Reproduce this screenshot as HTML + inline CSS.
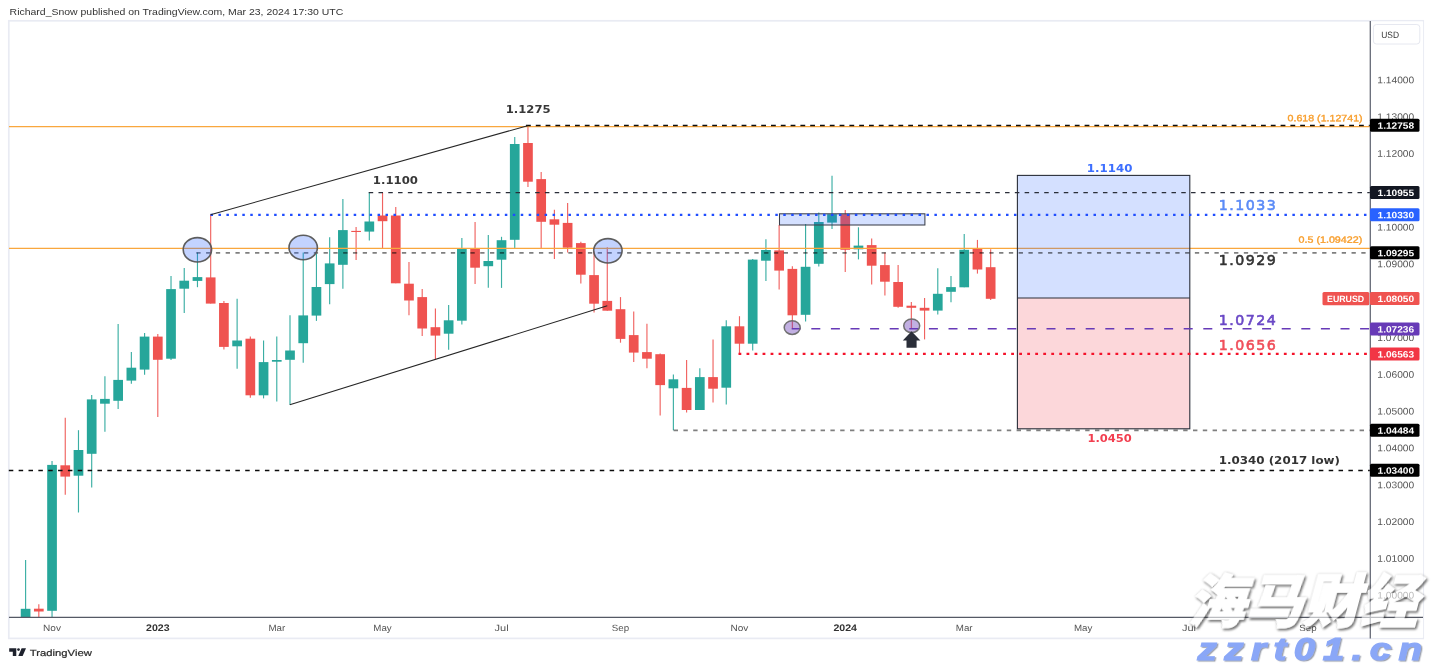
<!DOCTYPE html>
<html lang="en">
<head>
<meta charset="utf-8">
<title>EURUSD weekly chart</title>
<style>
html,body{margin:0;padding:0;background:#fff;}
body{width:1432px;height:666px;overflow:hidden;position:relative;font-family:"Liberation Sans",sans-serif;}
svg{position:absolute;left:0;top:0;display:block;}
.ui{font-family:"Liberation Sans",sans-serif;}
.lb{font-family:"DejaVu Sans","Liberation Sans",sans-serif;}
.cjk{font-family:"Liberation Sans","Noto Sans CJK SC",sans-serif;}
</style>
</head>
<body>
<svg width="1432" height="666" viewBox="0 0 1432 666">
<rect x="0" y="0" width="1432" height="666" fill="#ffffff"/>

<rect x="8.8" y="20.8" width="1414.4" height="617.6" fill="none" stroke="#e9ebf3" stroke-width="1.7"/>
<g id="candles">
<line x1="25.60" y1="560.1" x2="25.60" y2="617.1" stroke="#26a69a" stroke-width="1.15" opacity="0.9"/>
<rect x="20.75" y="608.8" width="9.7" height="8.3" fill="#26a69a"/>
<line x1="38.82" y1="604.2" x2="38.82" y2="617.1" stroke="#ef5350" stroke-width="1.15" opacity="0.9"/>
<rect x="33.97" y="608.7" width="9.7" height="2.8" fill="#ef5350"/>
<line x1="52.04" y1="461.0" x2="52.04" y2="617.1" stroke="#26a69a" stroke-width="1.15" opacity="0.9"/>
<rect x="47.19" y="464.9" width="9.7" height="145.9" fill="#26a69a"/>
<line x1="65.26" y1="417.8" x2="65.26" y2="494.8" stroke="#ef5350" stroke-width="1.15" opacity="0.9"/>
<rect x="60.41" y="465.3" width="9.7" height="11.3" fill="#ef5350"/>
<line x1="78.48" y1="430.2" x2="78.48" y2="512.5" stroke="#26a69a" stroke-width="1.15" opacity="0.9"/>
<rect x="73.63" y="450.0" width="9.7" height="25.7" fill="#26a69a"/>
<line x1="91.70" y1="395.0" x2="91.70" y2="487.4" stroke="#26a69a" stroke-width="1.15" opacity="0.9"/>
<rect x="86.85" y="399.4" width="9.7" height="54.4" fill="#26a69a"/>
<line x1="104.92" y1="376.2" x2="104.92" y2="431.8" stroke="#26a69a" stroke-width="1.15" opacity="0.9"/>
<rect x="100.07" y="398.9" width="9.7" height="4.8" fill="#26a69a"/>
<line x1="118.14" y1="324.0" x2="118.14" y2="408.9" stroke="#26a69a" stroke-width="1.15" opacity="0.9"/>
<rect x="113.29" y="379.9" width="9.7" height="20.9" fill="#26a69a"/>
<line x1="131.36" y1="352.0" x2="131.36" y2="383.7" stroke="#26a69a" stroke-width="1.15" opacity="0.9"/>
<rect x="126.51" y="367.7" width="9.7" height="12.9" fill="#26a69a"/>
<line x1="144.58" y1="332.9" x2="144.58" y2="374.7" stroke="#26a69a" stroke-width="1.15" opacity="0.9"/>
<rect x="139.73" y="336.6" width="9.7" height="33.0" fill="#26a69a"/>
<line x1="157.80" y1="334.1" x2="157.80" y2="416.9" stroke="#ef5350" stroke-width="1.15" opacity="0.9"/>
<rect x="152.95" y="336.6" width="9.7" height="23.2" fill="#ef5350"/>
<line x1="171.02" y1="276.1" x2="171.02" y2="360.0" stroke="#26a69a" stroke-width="1.15" opacity="0.9"/>
<rect x="166.17" y="289.1" width="9.7" height="69.6" fill="#26a69a"/>
<line x1="184.24" y1="267.9" x2="184.24" y2="312.9" stroke="#26a69a" stroke-width="1.15" opacity="0.9"/>
<rect x="179.39" y="280.7" width="9.7" height="8.0" fill="#26a69a"/>
<line x1="197.46" y1="252.6" x2="197.46" y2="287.2" stroke="#26a69a" stroke-width="1.15" opacity="0.9"/>
<rect x="192.61" y="277.1" width="9.7" height="3.8" fill="#26a69a"/>
<line x1="210.68" y1="214.7" x2="210.68" y2="303.6" stroke="#ef5350" stroke-width="1.15" opacity="0.9"/>
<rect x="205.83" y="277.4" width="9.7" height="26.2" fill="#ef5350"/>
<line x1="223.90" y1="300.9" x2="223.90" y2="349.5" stroke="#ef5350" stroke-width="1.15" opacity="0.9"/>
<rect x="219.05" y="303.0" width="9.7" height="43.9" fill="#ef5350"/>
<line x1="237.12" y1="298.8" x2="237.12" y2="368.8" stroke="#26a69a" stroke-width="1.15" opacity="0.9"/>
<rect x="232.27" y="340.5" width="9.7" height="5.8" fill="#26a69a"/>
<line x1="250.34" y1="336.6" x2="250.34" y2="397.8" stroke="#ef5350" stroke-width="1.15" opacity="0.9"/>
<rect x="245.49" y="338.7" width="9.7" height="56.6" fill="#ef5350"/>
<line x1="263.56" y1="340.5" x2="263.56" y2="398.4" stroke="#26a69a" stroke-width="1.15" opacity="0.9"/>
<rect x="258.71" y="362.1" width="9.7" height="33.2" fill="#26a69a"/>
<line x1="276.78" y1="336.6" x2="276.78" y2="401.6" stroke="#26a69a" stroke-width="1.15" opacity="0.9"/>
<rect x="271.93" y="360.0" width="9.7" height="1.7" fill="#26a69a"/>
<line x1="290.00" y1="315.2" x2="290.00" y2="404.7" stroke="#26a69a" stroke-width="1.15" opacity="0.9"/>
<rect x="285.15" y="350.5" width="9.7" height="9.3" fill="#26a69a"/>
<line x1="303.22" y1="252.6" x2="303.22" y2="362.7" stroke="#26a69a" stroke-width="1.15" opacity="0.9"/>
<rect x="298.37" y="315.4" width="9.7" height="27.8" fill="#26a69a"/>
<line x1="316.44" y1="253.6" x2="316.44" y2="320.9" stroke="#26a69a" stroke-width="1.15" opacity="0.9"/>
<rect x="311.59" y="287.0" width="9.7" height="28.6" fill="#26a69a"/>
<line x1="329.66" y1="237.2" x2="329.66" y2="304.3" stroke="#26a69a" stroke-width="1.15" opacity="0.9"/>
<rect x="324.81" y="263.4" width="9.7" height="20.7" fill="#26a69a"/>
<line x1="342.88" y1="198.9" x2="342.88" y2="288.7" stroke="#26a69a" stroke-width="1.15" opacity="0.9"/>
<rect x="338.03" y="230.1" width="9.7" height="34.7" fill="#26a69a"/>
<line x1="356.10" y1="226.9" x2="356.10" y2="259.9" stroke="#ef5350" stroke-width="1.15" opacity="0.9"/>
<rect x="351.25" y="230.9" width="9.7" height="1.1" fill="#ef5350"/>
<line x1="369.32" y1="192.6" x2="369.32" y2="240.6" stroke="#26a69a" stroke-width="1.15" opacity="0.9"/>
<rect x="364.47" y="221.5" width="9.7" height="10.1" fill="#26a69a"/>
<line x1="382.54" y1="192.6" x2="382.54" y2="248.0" stroke="#ef5350" stroke-width="1.15" opacity="0.9"/>
<rect x="377.69" y="215.5" width="9.7" height="5.7" fill="#ef5350"/>
<line x1="395.76" y1="206.9" x2="395.76" y2="283.3" stroke="#ef5350" stroke-width="1.15" opacity="0.9"/>
<rect x="390.91" y="215.5" width="9.7" height="67.8" fill="#ef5350"/>
<line x1="408.98" y1="262.0" x2="408.98" y2="315.2" stroke="#ef5350" stroke-width="1.15" opacity="0.9"/>
<rect x="404.13" y="283.7" width="9.7" height="16.8" fill="#ef5350"/>
<line x1="422.20" y1="289.0" x2="422.20" y2="336.0" stroke="#ef5350" stroke-width="1.15" opacity="0.9"/>
<rect x="417.35" y="297.1" width="9.7" height="31.4" fill="#ef5350"/>
<line x1="435.42" y1="308.5" x2="435.42" y2="359.2" stroke="#ef5350" stroke-width="1.15" opacity="0.9"/>
<rect x="430.57" y="327.2" width="9.7" height="8.4" fill="#ef5350"/>
<line x1="448.64" y1="305.1" x2="448.64" y2="349.7" stroke="#26a69a" stroke-width="1.15" opacity="0.9"/>
<rect x="443.79" y="320.3" width="9.7" height="13.4" fill="#26a69a"/>
<line x1="461.86" y1="237.9" x2="461.86" y2="324.5" stroke="#26a69a" stroke-width="1.15" opacity="0.9"/>
<rect x="457.01" y="248.4" width="9.7" height="72.3" fill="#26a69a"/>
<line x1="475.08" y1="222.1" x2="475.08" y2="284.1" stroke="#ef5350" stroke-width="1.15" opacity="0.9"/>
<rect x="470.23" y="248.4" width="9.7" height="19.3" fill="#ef5350"/>
<line x1="488.30" y1="235.1" x2="488.30" y2="287.7" stroke="#26a69a" stroke-width="1.15" opacity="0.9"/>
<rect x="483.45" y="261.0" width="9.7" height="5.2" fill="#26a69a"/>
<line x1="501.52" y1="236.8" x2="501.52" y2="287.9" stroke="#26a69a" stroke-width="1.15" opacity="0.9"/>
<rect x="496.67" y="240.2" width="9.7" height="19.5" fill="#26a69a"/>
<line x1="514.74" y1="137.1" x2="514.74" y2="248.0" stroke="#26a69a" stroke-width="1.15" opacity="0.9"/>
<rect x="509.89" y="144.0" width="9.7" height="95.8" fill="#26a69a"/>
<line x1="527.96" y1="125.7" x2="527.96" y2="187.1" stroke="#ef5350" stroke-width="1.15" opacity="0.9"/>
<rect x="523.11" y="143.0" width="9.7" height="38.7" fill="#ef5350"/>
<line x1="541.18" y1="172.0" x2="541.18" y2="248.0" stroke="#ef5350" stroke-width="1.15" opacity="0.9"/>
<rect x="536.33" y="179.1" width="9.7" height="42.7" fill="#ef5350"/>
<line x1="554.40" y1="209.8" x2="554.40" y2="258.9" stroke="#ef5350" stroke-width="1.15" opacity="0.9"/>
<rect x="549.55" y="219.3" width="9.7" height="5.4" fill="#ef5350"/>
<line x1="567.62" y1="202.9" x2="567.62" y2="252.6" stroke="#ef5350" stroke-width="1.15" opacity="0.9"/>
<rect x="562.77" y="222.9" width="9.7" height="24.8" fill="#ef5350"/>
<line x1="580.84" y1="241.7" x2="580.84" y2="283.5" stroke="#ef5350" stroke-width="1.15" opacity="0.9"/>
<rect x="575.99" y="243.1" width="9.7" height="31.6" fill="#ef5350"/>
<line x1="594.06" y1="251.5" x2="594.06" y2="312.5" stroke="#ef5350" stroke-width="1.15" opacity="0.9"/>
<rect x="589.21" y="275.1" width="9.7" height="28.6" fill="#ef5350"/>
<line x1="607.28" y1="247.3" x2="607.28" y2="310.7" stroke="#ef5350" stroke-width="1.15" opacity="0.9"/>
<rect x="602.43" y="300.9" width="9.7" height="9.8" fill="#ef5350"/>
<line x1="620.50" y1="297.1" x2="620.50" y2="342.7" stroke="#ef5350" stroke-width="1.15" opacity="0.9"/>
<rect x="615.65" y="309.2" width="9.7" height="29.7" fill="#ef5350"/>
<line x1="633.72" y1="311.6" x2="633.72" y2="362.0" stroke="#ef5350" stroke-width="1.15" opacity="0.9"/>
<rect x="628.87" y="335.1" width="9.7" height="17.5" fill="#ef5350"/>
<line x1="646.94" y1="323.8" x2="646.94" y2="368.3" stroke="#ef5350" stroke-width="1.15" opacity="0.9"/>
<rect x="642.09" y="352.1" width="9.7" height="6.6" fill="#ef5350"/>
<line x1="660.16" y1="353.4" x2="660.16" y2="415.6" stroke="#ef5350" stroke-width="1.15" opacity="0.9"/>
<rect x="655.31" y="354.2" width="9.7" height="30.9" fill="#ef5350"/>
<line x1="673.38" y1="374.6" x2="673.38" y2="430.3" stroke="#26a69a" stroke-width="1.15" opacity="0.9"/>
<rect x="668.53" y="379.3" width="9.7" height="9.0" fill="#26a69a"/>
<line x1="686.60" y1="359.9" x2="686.60" y2="412.5" stroke="#ef5350" stroke-width="1.15" opacity="0.9"/>
<rect x="681.75" y="387.9" width="9.7" height="22.1" fill="#ef5350"/>
<line x1="699.82" y1="368.3" x2="699.82" y2="410.0" stroke="#26a69a" stroke-width="1.15" opacity="0.9"/>
<rect x="694.97" y="377.1" width="9.7" height="32.9" fill="#26a69a"/>
<line x1="713.04" y1="339.5" x2="713.04" y2="402.4" stroke="#ef5350" stroke-width="1.15" opacity="0.9"/>
<rect x="708.19" y="377.1" width="9.7" height="11.6" fill="#ef5350"/>
<line x1="726.26" y1="320.2" x2="726.26" y2="404.5" stroke="#26a69a" stroke-width="1.15" opacity="0.9"/>
<rect x="721.41" y="326.3" width="9.7" height="61.4" fill="#26a69a"/>
<line x1="739.48" y1="316.2" x2="739.48" y2="354.0" stroke="#ef5350" stroke-width="1.15" opacity="0.9"/>
<rect x="734.63" y="326.3" width="9.7" height="17.4" fill="#ef5350"/>
<line x1="752.70" y1="259.0" x2="752.70" y2="350.5" stroke="#26a69a" stroke-width="1.15" opacity="0.9"/>
<rect x="747.85" y="259.6" width="9.7" height="84.1" fill="#26a69a"/>
<line x1="765.92" y1="239.3" x2="765.92" y2="281.1" stroke="#26a69a" stroke-width="1.15" opacity="0.9"/>
<rect x="761.07" y="250.0" width="9.7" height="10.7" fill="#26a69a"/>
<line x1="779.14" y1="225.0" x2="779.14" y2="289.6" stroke="#ef5350" stroke-width="1.15" opacity="0.9"/>
<rect x="774.29" y="250.4" width="9.7" height="20.2" fill="#ef5350"/>
<line x1="792.36" y1="266.2" x2="792.36" y2="328.4" stroke="#ef5350" stroke-width="1.15" opacity="0.9"/>
<rect x="787.51" y="268.9" width="9.7" height="46.4" fill="#ef5350"/>
<line x1="805.58" y1="224.1" x2="805.58" y2="321.5" stroke="#26a69a" stroke-width="1.15" opacity="0.9"/>
<rect x="800.73" y="266.8" width="9.7" height="48.0" fill="#26a69a"/>
<line x1="818.80" y1="212.6" x2="818.80" y2="266.6" stroke="#26a69a" stroke-width="1.15" opacity="0.9"/>
<rect x="813.95" y="222.0" width="9.7" height="41.8" fill="#26a69a"/>
<line x1="832.02" y1="175.8" x2="832.02" y2="229.0" stroke="#26a69a" stroke-width="1.15" opacity="0.9"/>
<rect x="827.17" y="214.2" width="9.7" height="8.4" fill="#26a69a"/>
<line x1="845.24" y1="210.0" x2="845.24" y2="272.0" stroke="#ef5350" stroke-width="1.15" opacity="0.9"/>
<rect x="840.39" y="214.2" width="9.7" height="35.6" fill="#ef5350"/>
<line x1="858.46" y1="227.3" x2="858.46" y2="259.4" stroke="#26a69a" stroke-width="1.15" opacity="0.9"/>
<rect x="853.61" y="245.6" width="9.7" height="3.7" fill="#26a69a"/>
<line x1="871.68" y1="238.4" x2="871.68" y2="284.4" stroke="#ef5350" stroke-width="1.15" opacity="0.9"/>
<rect x="866.83" y="245.1" width="9.7" height="20.6" fill="#ef5350"/>
<line x1="884.90" y1="252.5" x2="884.90" y2="295.6" stroke="#ef5350" stroke-width="1.15" opacity="0.9"/>
<rect x="880.05" y="265.1" width="9.7" height="16.6" fill="#ef5350"/>
<line x1="898.12" y1="265.1" x2="898.12" y2="307.8" stroke="#ef5350" stroke-width="1.15" opacity="0.9"/>
<rect x="893.27" y="282.0" width="9.7" height="24.8" fill="#ef5350"/>
<line x1="911.34" y1="302.0" x2="911.34" y2="328.9" stroke="#ef5350" stroke-width="1.15" opacity="0.9"/>
<rect x="906.49" y="305.7" width="9.7" height="2.1" fill="#ef5350"/>
<line x1="924.56" y1="298.0" x2="924.56" y2="339.4" stroke="#ef5350" stroke-width="1.15" opacity="0.9"/>
<rect x="919.71" y="307.8" width="9.7" height="2.8" fill="#ef5350"/>
<line x1="937.78" y1="268.3" x2="937.78" y2="314.6" stroke="#26a69a" stroke-width="1.15" opacity="0.9"/>
<rect x="932.93" y="293.8" width="9.7" height="16.8" fill="#26a69a"/>
<line x1="951.00" y1="275.9" x2="951.00" y2="302.2" stroke="#26a69a" stroke-width="1.15" opacity="0.9"/>
<rect x="946.15" y="287.1" width="9.7" height="4.7" fill="#26a69a"/>
<line x1="964.22" y1="234.0" x2="964.22" y2="287.3" stroke="#26a69a" stroke-width="1.15" opacity="0.9"/>
<rect x="959.37" y="249.8" width="9.7" height="37.5" fill="#26a69a"/>
<line x1="977.44" y1="239.9" x2="977.44" y2="273.6" stroke="#ef5350" stroke-width="1.15" opacity="0.9"/>
<rect x="972.59" y="248.3" width="9.7" height="21.2" fill="#ef5350"/>
<line x1="990.66" y1="249.3" x2="990.66" y2="299.9" stroke="#ef5350" stroke-width="1.15" opacity="0.9"/>
<rect x="985.81" y="267.2" width="9.7" height="31.6" fill="#ef5350"/>
</g>
<g id="drawings" fill="none">
<line x1="9" y1="126.6" x2="1370.3" y2="126.6" stroke="#f9a73e" stroke-width="1.1"/>
<line x1="9" y1="248.4" x2="1370.3" y2="248.4" stroke="#f9a73e" stroke-width="1.1"/>
<rect x="1017.4" y="175.4" width="172.4" height="122.6" fill="#2962ff" fill-opacity="0.2"/>
<rect x="1017.4" y="298" width="172.4" height="130.8" fill="#f23645" fill-opacity="0.2"/>
<rect x="1017.4" y="175.4" width="172.4" height="253.4" fill="none" stroke="#2a2e39" stroke-width="1.1"/>
<line x1="1017.4" y1="298" x2="1189.8" y2="298" stroke="#2a2e39" stroke-width="1.1"/>
<rect x="779.5" y="213.8" width="145.4" height="11.2" fill="#2962ff" fill-opacity="0.2" stroke="#3b3f4a" stroke-width="1.05"/>
<line x1="526.0" y1="125.5" x2="1370.3" y2="125.5" stroke="#0c0c0c" stroke-width="1.5" stroke-dasharray="4.8 5.0"/>
<line x1="368.7" y1="192.6" x2="1370.3" y2="192.6" stroke="#2a2e39" stroke-width="1.1" stroke-dasharray="4.5 5.29"/>
<line x1="210.5" y1="214.9" x2="1370.3" y2="214.9" stroke="#1f4dff" stroke-width="2.4" stroke-dasharray="2.5 5.455"/>
<line x1="196.3" y1="252.85" x2="1370.3" y2="252.85" stroke="#000000" stroke-opacity="0.5" stroke-width="1.8" stroke-dasharray="4.3 5.49"/>
<line x1="791.7" y1="328.7" x2="1370.3" y2="328.7" stroke="#673ab7" stroke-width="1.6" stroke-dasharray="9 10.6"/>
<line x1="738.5" y1="353.8" x2="1370.3" y2="353.8" stroke="#f4122a" stroke-width="2.2" stroke-dasharray="2.8 5.22"/>
<line x1="673.6" y1="430.3" x2="1370.3" y2="430.3" stroke="#000000" stroke-opacity="0.5" stroke-width="1.7" stroke-dasharray="4.4 5.4"/>
<line x1="8.8" y1="470.5" x2="1370.3" y2="470.5" stroke="#0c0c0c" stroke-width="1.35" stroke-dasharray="4.5 5.35"/>
<line x1="210.5" y1="214.7" x2="527.6" y2="125.7" stroke="#262626" stroke-width="1.05"/>
<line x1="289.8" y1="404.7" x2="607.3" y2="305.8" stroke="#262626" stroke-width="1.05"/>
<ellipse cx="197.4" cy="249.8" rx="14.2" ry="12.2" fill="#2962ff" fill-opacity="0.28" stroke="#555555" stroke-opacity="0.95" stroke-width="1.6"/>
<ellipse cx="303.2" cy="247.5" rx="14.2" ry="12.2" fill="#2962ff" fill-opacity="0.28" stroke="#555555" stroke-opacity="0.95" stroke-width="1.6"/>
<ellipse cx="607.9" cy="250.8" rx="14.2" ry="12.2" fill="#2962ff" fill-opacity="0.28" stroke="#555555" stroke-opacity="0.95" stroke-width="1.6"/>
<ellipse cx="792.2" cy="327.6" rx="8" ry="6.8" fill="#673ab7" fill-opacity="0.4" stroke="#6a6a6a" stroke-opacity="0.95" stroke-width="1.5"/>
<ellipse cx="911.7" cy="325.8" rx="8" ry="6.8" fill="#673ab7" fill-opacity="0.4" stroke="#6a6a6a" stroke-opacity="0.95" stroke-width="1.5"/>
<path d="M911.5 331.2 L920.4 340.4 L916.6 340.4 L916.6 347.8 L906.5 347.8 L906.5 340.4 L902.8 340.4 Z" fill="#2a2e39" stroke="none"/>
</g>
<text class="lb" x="505.8" y="112.8" font-size="10.7" font-weight="bold" fill="#383838" textLength="44.8" lengthAdjust="spacingAndGlyphs">1.1275</text>
<text class="lb" x="372.8" y="183.9" font-size="10.7" font-weight="bold" fill="#383838" textLength="45.2" lengthAdjust="spacingAndGlyphs">1.1100</text>
<text class="lb" x="1086.8" y="172.3" font-size="10.7" font-weight="bold" fill="#3d6fff" textLength="45.6" lengthAdjust="spacingAndGlyphs">1.1140</text>
<text class="lb" x="1087.5" y="441.7" font-size="10.4" font-weight="bold" fill="#f23f50" textLength="44.3" lengthAdjust="spacingAndGlyphs">1.0450</text>
<text class="lb" x="1218.7" y="464.0" font-size="10.8" font-weight="bold" fill="#333" textLength="121.3" lengthAdjust="spacingAndGlyphs">1.0340 (2017 low)</text>
<text class="lb" x="1218.8" y="209.6" font-size="14.2" font-weight="normal" fill="#5b8bf7" textLength="57" stroke="#5b8bf7" stroke-width="0.6">1.1033</text>
<text class="lb" x="1218.8" y="265.2" font-size="14.2" font-weight="normal" fill="#333333" textLength="57" stroke="#333333" stroke-width="0.6">1.0929</text>
<text class="lb" x="1218.8" y="324.8" font-size="14.2" font-weight="normal" fill="#6a48c6" textLength="57" stroke="#6a48c6" stroke-width="0.6">1.0724</text>
<text class="lb" x="1218.8" y="349.6" font-size="14.2" font-weight="normal" fill="#f0505c" textLength="57" stroke="#f0505c" stroke-width="0.6">1.0656</text>
<text class="ui" x="1287.6" y="121.2" transform="rotate(0.03 1287.6 121.2)" font-size="9.2" fill="#f89e2c" stroke="#f89e2c" stroke-width="0.35" textLength="75" lengthAdjust="spacingAndGlyphs">0.618 (1.12741)</text>
<text class="ui" x="1298.6" y="242.8" transform="rotate(0.03 1298.6 242.8)" font-size="9.2" fill="#f89e2c" stroke="#f89e2c" stroke-width="0.35" textLength="63.6" lengthAdjust="spacingAndGlyphs">0.5 (1.09422)</text>
<rect x="1370.8" y="21.4" width="52.3" height="616.4" fill="#ffffff"/>
<line x1="1370.3" y1="21" x2="1370.3" y2="638.4" stroke="#666a76" stroke-width="1.3"/>
<line x1="9" y1="617.4" x2="1423" y2="617.4" stroke="#555965" stroke-width="1.2"/>
<rect x="1373.4" y="24.5" width="46.4" height="19.5" rx="3" ry="3" fill="#fff" stroke="#e6e8f0" stroke-width="1"/>
<text class="ui" x="1381.2" y="37.9" transform="rotate(0.03 1381.2 37.9)" font-size="9.2" fill="#333" textLength="17.8" lengthAdjust="spacingAndGlyphs">USD</text>
<text class="ui" x="1377.3" y="83.25" transform="rotate(0.03 1377.3 83.25)" font-size="9.6" fill="#555555" textLength="36.9" lengthAdjust="spacingAndGlyphs">1.14000</text>
<text class="ui" x="1377.3" y="120.06" transform="rotate(0.03 1377.3 120.06)" font-size="9.6" fill="#555555" textLength="36.9" lengthAdjust="spacingAndGlyphs">1.13000</text>
<text class="ui" x="1377.3" y="156.87" transform="rotate(0.03 1377.3 156.87)" font-size="9.6" fill="#555555" textLength="36.9" lengthAdjust="spacingAndGlyphs">1.12000</text>
<text class="ui" x="1377.3" y="193.68" transform="rotate(0.03 1377.3 193.68)" font-size="9.6" fill="#555555" textLength="36.9" lengthAdjust="spacingAndGlyphs">1.11000</text>
<text class="ui" x="1377.3" y="230.49" transform="rotate(0.03 1377.3 230.49)" font-size="9.6" fill="#555555" textLength="36.9" lengthAdjust="spacingAndGlyphs">1.10000</text>
<text class="ui" x="1377.3" y="267.30" transform="rotate(0.03 1377.3 267.30)" font-size="9.6" fill="#555555" textLength="36.9" lengthAdjust="spacingAndGlyphs">1.09000</text>
<text class="ui" x="1377.3" y="304.11" transform="rotate(0.03 1377.3 304.11)" font-size="9.6" fill="#555555" textLength="36.9" lengthAdjust="spacingAndGlyphs">1.08000</text>
<text class="ui" x="1377.3" y="340.92" transform="rotate(0.03 1377.3 340.92)" font-size="9.6" fill="#555555" textLength="36.9" lengthAdjust="spacingAndGlyphs">1.07000</text>
<text class="ui" x="1377.3" y="377.73" transform="rotate(0.03 1377.3 377.73)" font-size="9.6" fill="#555555" textLength="36.9" lengthAdjust="spacingAndGlyphs">1.06000</text>
<text class="ui" x="1377.3" y="414.54" transform="rotate(0.03 1377.3 414.54)" font-size="9.6" fill="#555555" textLength="36.9" lengthAdjust="spacingAndGlyphs">1.05000</text>
<text class="ui" x="1377.3" y="451.35" transform="rotate(0.03 1377.3 451.35)" font-size="9.6" fill="#555555" textLength="36.9" lengthAdjust="spacingAndGlyphs">1.04000</text>
<text class="ui" x="1377.3" y="488.16" transform="rotate(0.03 1377.3 488.16)" font-size="9.6" fill="#555555" textLength="36.9" lengthAdjust="spacingAndGlyphs">1.03000</text>
<text class="ui" x="1377.3" y="524.97" transform="rotate(0.03 1377.3 524.97)" font-size="9.6" fill="#555555" textLength="36.9" lengthAdjust="spacingAndGlyphs">1.02000</text>
<text class="ui" x="1377.3" y="561.78" transform="rotate(0.03 1377.3 561.78)" font-size="9.6" fill="#555555" textLength="36.9" lengthAdjust="spacingAndGlyphs">1.01000</text>
<text class="ui" x="1377.3" y="598.59" transform="rotate(0.03 1377.3 598.59)" font-size="9.6" fill="#555555" textLength="36.9" lengthAdjust="spacingAndGlyphs">1.00000</text>
<rect x="1370.0" y="118.7" width="49.5" height="13" rx="1.5" ry="1.5" fill="#000000"/>
<text class="ui" x="1377.5" y="128.65" transform="rotate(0.03 1377.5 128.65)" font-size="9.2" font-weight="bold" fill="#ffffff" textLength="36.6" lengthAdjust="spacingAndGlyphs">1.12758</text>
<rect x="1370.0" y="186.1" width="49.5" height="13" rx="1.5" ry="1.5" fill="#131722"/>
<text class="ui" x="1377.5" y="196.05" transform="rotate(0.03 1377.5 196.05)" font-size="9.2" font-weight="bold" fill="#ffffff" textLength="36.6" lengthAdjust="spacingAndGlyphs">1.10955</text>
<rect x="1370.0" y="208.3" width="49.5" height="13" rx="1.5" ry="1.5" fill="#2962ff"/>
<text class="ui" x="1377.5" y="218.25" transform="rotate(0.03 1377.5 218.25)" font-size="9.2" font-weight="bold" fill="#ffffff" textLength="36.6" lengthAdjust="spacingAndGlyphs">1.10330</text>
<rect x="1370.0" y="246.2" width="49.5" height="13" rx="1.5" ry="1.5" fill="#000000"/>
<text class="ui" x="1377.5" y="256.15" transform="rotate(0.03 1377.5 256.15)" font-size="9.2" font-weight="bold" fill="#ffffff" textLength="36.6" lengthAdjust="spacingAndGlyphs">1.09295</text>
<rect x="1322.5" y="292" width="46.8" height="13.2" rx="1.5" ry="1.5" fill="#ef5350"/>
<text class="ui" x="1327" y="302.05" transform="rotate(0.03 1327 302.05)" font-size="9.2" font-weight="bold" fill="#ffffff" textLength="37.2" lengthAdjust="spacingAndGlyphs">EURUSD</text>
<rect x="1370.0" y="292.1" width="49.5" height="13" rx="1.5" ry="1.5" fill="#ef5350"/>
<text class="ui" x="1377.5" y="302.05" transform="rotate(0.03 1377.5 302.05)" font-size="9.2" font-weight="bold" fill="#ffffff" textLength="36.6" lengthAdjust="spacingAndGlyphs">1.08050</text>
<rect x="1370.0" y="322.5" width="49.5" height="13" rx="1.5" ry="1.5" fill="#673ab7"/>
<text class="ui" x="1377.5" y="332.45" transform="rotate(0.03 1377.5 332.45)" font-size="9.2" font-weight="bold" fill="#ffffff" textLength="36.6" lengthAdjust="spacingAndGlyphs">1.07236</text>
<rect x="1370.0" y="347.5" width="49.5" height="13" rx="1.5" ry="1.5" fill="#f23645"/>
<text class="ui" x="1377.5" y="357.45" transform="rotate(0.03 1377.5 357.45)" font-size="9.2" font-weight="bold" fill="#ffffff" textLength="36.6" lengthAdjust="spacingAndGlyphs">1.06563</text>
<rect x="1370.0" y="423.7" width="49.5" height="13" rx="1.5" ry="1.5" fill="#000000"/>
<text class="ui" x="1377.5" y="433.65" transform="rotate(0.03 1377.5 433.65)" font-size="9.2" font-weight="bold" fill="#ffffff" textLength="36.6" lengthAdjust="spacingAndGlyphs">1.04484</text>
<rect x="1370.0" y="463.8" width="49.5" height="13" rx="1.5" ry="1.5" fill="#000000"/>
<text class="ui" x="1377.5" y="473.75" transform="rotate(0.03 1377.5 473.75)" font-size="9.2" font-weight="bold" fill="#ffffff" textLength="36.6" lengthAdjust="spacingAndGlyphs">1.03400</text>
<text class="ui" x="43.1" y="631.05" transform="rotate(0.03 43.1 631.05)" font-size="9.1" fill="#555555" textLength="17.9" lengthAdjust="spacingAndGlyphs">Nov</text>
<text class="ui" x="146.0" y="631.05" transform="rotate(0.03 146.0 631.05)" font-size="9.5" font-weight="bold" fill="#333" textLength="23.6" lengthAdjust="spacingAndGlyphs">2023</text>
<text class="ui" x="268.4" y="631.05" transform="rotate(0.03 268.4 631.05)" font-size="9.1" fill="#555555" textLength="16.8" lengthAdjust="spacingAndGlyphs">Mar</text>
<text class="ui" x="373.3" y="631.05" transform="rotate(0.03 373.3 631.05)" font-size="9.1" fill="#555555" textLength="18.4" lengthAdjust="spacingAndGlyphs">May</text>
<text class="ui" x="494.5" y="631.05" transform="rotate(0.03 494.5 631.05)" font-size="9.1" fill="#555555" textLength="14.1" lengthAdjust="spacingAndGlyphs">Jul</text>
<text class="ui" x="611.8" y="631.05" transform="rotate(0.03 611.8 631.05)" font-size="9.1" fill="#555555" textLength="17.4" lengthAdjust="spacingAndGlyphs">Sep</text>
<text class="ui" x="730.5" y="631.05" transform="rotate(0.03 730.5 631.05)" font-size="9.1" fill="#555555" textLength="17.9" lengthAdjust="spacingAndGlyphs">Nov</text>
<text class="ui" x="833.4" y="631.05" transform="rotate(0.03 833.4 631.05)" font-size="9.5" font-weight="bold" fill="#333" textLength="23.6" lengthAdjust="spacingAndGlyphs">2024</text>
<text class="ui" x="955.8" y="631.05" transform="rotate(0.03 955.8 631.05)" font-size="9.1" fill="#555555" textLength="16.8" lengthAdjust="spacingAndGlyphs">Mar</text>
<text class="ui" x="1074.0" y="631.05" transform="rotate(0.03 1074.0 631.05)" font-size="9.1" fill="#555555" textLength="18.4" lengthAdjust="spacingAndGlyphs">May</text>
<text class="ui" x="1181.9" y="631.05" transform="rotate(0.03 1181.9 631.05)" font-size="9.1" fill="#555555" textLength="14.1" lengthAdjust="spacingAndGlyphs">Jul</text>
<text class="ui" x="1299.2" y="631.05" transform="rotate(0.03 1299.2 631.05)" font-size="9.1" fill="#555555" textLength="17.4" lengthAdjust="spacingAndGlyphs">Sep</text>
<text class="ui" x="9.6" y="14.8" transform="rotate(0.02 9.6 14.8)" font-size="9.6" fill="#333333" textLength="333.6" lengthAdjust="spacingAndGlyphs">Richard_Snow published on TradingView.com, Mar 23, 2024 17:30 UTC</text>
<g fill="#1e222d">
<path d="M9.2 648.3 H16.3 V655.9 H12.8 V651.7 H9.2 Z"/>
<circle cx="18.5" cy="649.6" r="1.35"/>
<path d="M21.6 648.3 H26 L22.6 655.9 H18.3 Z"/>
</g>
<text class="ui" x="29.8" y="655.9" transform="rotate(0.03 29.8 655.9)" font-size="9.1" fill="#2a2a2a" stroke="#2a2a2a" stroke-width="0.2" textLength="62" lengthAdjust="spacingAndGlyphs">TradingView</text>
<defs>
<filter id="ws" x="-10%" y="-20%" width="125%" height="150%" color-interpolation-filters="sRGB">
<feGaussianBlur in="SourceAlpha" stdDeviation="0.8" result="b"/>
<feOffset in="b" dx="2.1" dy="2.1" result="o"/>
<feComposite in="o" in2="SourceAlpha" operator="out" result="sh"/>
<feFlood flood-color="#303030" flood-opacity="0.62" result="fc"/>
<feComposite in="fc" in2="sh" operator="in" result="shc"/>
<feGaussianBlur in="SourceAlpha" stdDeviation="1.1" result="b2"/>
<feComposite in="b2" in2="SourceAlpha" operator="out" result="halo"/>
<feFlood flood-color="#505050" flood-opacity="0.35" result="fc2"/>
<feComposite in="fc2" in2="halo" operator="in" result="haloc"/>
<feColorMatrix in="SourceGraphic" type="matrix" values="1 0 0 0 0  0 1 0 0 0  0 0 1 0 0  0 0 0 0.6 0" result="wt"/>
<feMerge><feMergeNode in="haloc"/><feMergeNode in="shc"/><feMergeNode in="wt"/></feMerge>
</filter>
<filter id="ws2" x="-10%" y="-20%" width="125%" height="150%"><feDropShadow dx="1.1" dy="1.1" stdDeviation="0.45" flood-color="#505a70" flood-opacity="0.55"/></filter>
</defs>
<g transform="translate(1187.5 622) skewX(-15)" filter="url(#ws)">
<text class="cjk" x="0" y="0" font-size="57.6" font-weight="900" fill="#ffffff" stroke="#ffffff" stroke-width="1.4" stroke-linejoin="miter" letter-spacing="-0.2">海马财经</text>
</g>
<g transform="translate(1197.6 659.6) scale(1.22 1)" filter="url(#ws2)">
<text class="ui" x="0" y="0" font-size="31.5" font-weight="bold" font-style="italic" fill="#8aa7f7" stroke="#8aa7f7" stroke-width="1.2" letter-spacing="6.15">zzrt01.cn</text>
</g>
</svg>
</body>
</html>
